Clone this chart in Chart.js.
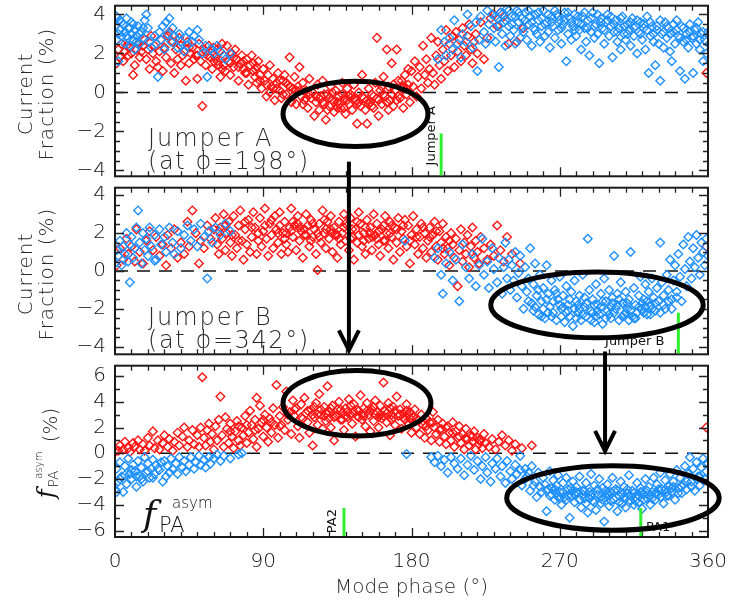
<!DOCTYPE html>
<html>
<head>
<meta charset="utf-8">
<script src="https://cdn.jsdelivr.net/npm/chart.js@4.4.1/dist/chart.umd.min.js"></script>
<style>
  body { margin: 0; background: #fff; }
  #wrap { position: relative; width: 742px; height: 604px; }
  canvas { position: absolute; left: 0; }
</style>
</head>
<body>
<div id="wrap">
  <canvas id="c1" width="742" height="182" style="top:0px"></canvas>
  <canvas id="c2" width="742" height="178" style="top:182px"></canvas>
  <canvas id="c3" width="742" height="244" style="top:360px"></canvas>
</div>
<script>
// mode phase (deg) / value (%) pairs, x,y,x,y,...

// panel 1 : current fraction, Jumper A
const jumperARed = [
  1,1.5, 2,2.2, 3,1.8, 4,2.5, 5,1.6, 6,2.1, 7,2.4, 8,1.9, 9,2.3, 10,2.0, 11,0.9, 12,1.4, 13,2.2, 14,2.5, 15,1.8,
  16,2.1, 17,2.4, 18,2.7, 19,1.7, 20,2.2, 21,1.2, 22,2.9, 23,2.0, 24,2.4, 25,1.6, 26,1.3, 27,2.1, 28,2.7, 29,1.1, 30,2.3,
  31,1.8, 32,2.9, 33,3.1, 34,1.5, 35,2.6, 36,1.0, 37,2.2, 38,1.7, 39,2.8, 40,2.4, 41,1.9, 42,2.1, 43,0.6, 44,2.6, 45,1.5,
  46,2.0, 47,2.3, 48,1.7, 49,1.9, 50,0.7, 51,2.5, 52,1.6, 53,-0.7, 54,2.2, 55,1.4, 56,1.9, 57,2.4, 58,1.8, 59,1.2, 60,2.3,
  61,1.8, 62,2.2, 62,1.6, 63,1.4, 64,0.8, 65,2.5, 66,1.9, 66,1.4, 67,1.1, 68,2.4, 69,1.6, 70,0.9, 71,2.0, 72,1.3, 72,1.8,
  73,2.2, 74,1.7, 75,0.6, 76,1.5, 77,1.9, 78,1.2, 78,1.6, 79,1.0, 80,1.7, 81,0.4, 82,1.4, 83,1.9, 84,1.1, 84,1.5, 85,0.8,
  86,1.3, 86,0.5, 87,1.6, 88,0.9, 89,0.2, 90,1.2, 91,0.6, 92,-0.2, 93,0.9, 94,1.4, 95,0.3, 96,0.7, 96,0.2, 97,-0.4, 98,0.5,
  99,1.0, 100,0.1, 100,0.6, 101,-0.3, 102,0.6, 103,0.9, 104,-0.1, 104,0.5, 105,0.4, 106,1.8, 107,-0.5, 108,0.2, 108,-0.2,
  109,0.8, 110,-0.6, 111,0.3, 112,1.3, 112,0.1, 113,-0.2, 114,0.5, 115,-0.4, 116,0.1, 116,-0.3, 117,-0.8, 118,0.7, 119,-0.3,
  120,0.0, 121,-1.2, 122,-0.5, 123,0.4, 124,-0.9, 124,-0.3, 125,-0.2, 126,0.6, 127,-0.6, 127,-0.1, 128,-1.4, 129,-0.1,
  130,-0.7, 130,-0.3, 131,0.3, 132,-0.4, 133,-1.0, 133,-0.5, 134,0.1, 135,-0.5, 136,-0.2, 136,-0.6, 137,-0.8, 138,0.5,
  139,-0.3, 139,-0.8, 140,-1.1, 141,0.2, 142,-0.6, 142,-0.2, 143,-0.1, 144,-0.9, 145,0.4, 145,-0.3, 146,-0.4, 147,-1.6,
  148,0.0, 148,-0.5, 149,-0.7, 150,0.9, 151,-0.3, 152,-0.9, 153,-1.6, 154,0.2, 154,-0.6, 155,-0.5, 156,-0.1, 157,-0.8,
  157,-0.2, 158,0.5, 159,2.8, 160,-1.2, 160,-0.4, 161,0.1, 162,-0.6, 163,0.8, 163,-0.1, 164,-0.2, 165,2.2, 166,0.3, 166,-0.9,
  167,-0.4, 168,1.5, 169,-0.7, 169,0.4, 170,0.1, 171,2.2, 172,0.6, 172,-0.2, 173,-0.3, 174,0.2, 175,-0.8, 175,0.3, 176,0.9,
  177,-0.1, 178,0.4, 178,1.2, 179,-0.5, 180,1.1, 181,0.3, 182,1.6, 183,-0.2, 184,0.8, 185,1.3, 186,0.2, 187,2.4, 188,0.9,
  189,1.7, 190,0.5, 191,1.2, 192,2.8, 193,1.0, 194,0.4, 195,1.9, 196,2.6, 197,1.4, 198,0.7, 199,2.2, 200,1.6, 201,3.2,
  202,1.1, 203,2.5, 204,1.9, 205,2.9, 206,1.3, 207,3.1, 208,2.1, 209,2.7, 210,1.6, 211,3.3, 212,2.4, 213,1.9, 214,2.9,
  215,3.5, 216,2.2, 217,1.5, 218,2.6, 219,3.0, 220,2.0, 222,3.6, 224,1.7, 226,2.8, 228,3.8, 230,4.0, 232,3.4, 234,4.1,
  236,3.9, 239,2.5, 244,2.6, 248,3.3, 359,1.0,
  92,0.4, 94,0.0, 98,0.2, 102,-0.1, 106,0.3, 110,0.1, 114,-0.6, 118,-0.1, 122,-0.2, 126,-0.5, 129,-0.9, 132,0.0,
  135,-0.8, 138,-0.1, 141,-0.4, 144,-0.2, 147,-0.6, 150,-0.2, 153,-0.4, 156,-0.7, 159,-0.3, 162,0.3, 165,-0.5, 168,-0.1,
  171,-0.4, 174,0.6, 177,0.2, 40,1.4, 45,2.3, 50,1.9, 55,2.1, 60,1.6, 65,1.2, 70,1.5, 75,1.3, 80,1.0, 85,1.2, 88,0.6
];
const jumperABlue = [
  0,3.4, 1,3.9, 1,2.7, 2,1.6, 3,3.2, 3,3.7, 4,2.9, 5,3.5, 6,3.1, 6,2.5, 7,3.8, 8,2.8, 8,3.3, 9,2.4, 10,3.0, 10,3.6, 11,2.7,
  12,3.2, 12,2.2, 13,2.9, 14,3.4, 15,2.5, 16,3.1, 17,2.8, 18,3.7, 19,4.0, 20,3.3, 21,2.6, 22,2.3, 24,2.9, 25,2.5, 26,0.8,
  27,3.1, 28,2.7, 29,3.4, 30,2.2, 31,3.6, 32,3.0, 33,3.8, 34,2.6, 35,3.3, 36,2.9, 38,2.3, 39,3.0, 40,2.6, 42,2.1, 43,2.8,
  44,2.4, 45,3.1, 47,2.6, 48,2.9, 50,3.2, 51,2.7, 53,2.0, 55,2.4, 56,0.8, 58,2.2, 60,2.0, 62,2.4, 64,2.1, 67,1.7, 70,2.0,
  196,1.7, 198,3.2, 200,2.6, 201,1.9, 203,2.8, 205,2.2, 206,3.7, 208,2.5, 210,1.8, 211,3.0, 213,2.6, 214,4.0, 216,3.4,
  217,2.3, 219,3.6, 220,1.1, 221,2.7, 222,3.9, 224,3.1, 225,2.5, 226,4.2, 227,3.5, 228,2.8, 229,4.0, 230,3.3, 231,2.6,
  232,3.8, 233,1.3, 234,4.1, 235,3.0, 236,3.6, 237,2.4, 238,4.3, 239,3.4, 240,2.9, 241,3.9, 242,3.2, 243,2.5, 244,4.2,
  245,3.6, 246,2.8, 247,3.8, 248,3.1, 249,4.1, 250,2.7, 251,3.5, 252,3.9, 253,2.4, 254,3.3, 255,4.0, 256,3.0, 257,3.7,
  258,2.6, 259,3.4, 260,4.2, 261,2.9, 262,3.6, 263,3.1, 264,2.3, 265,3.9, 266,3.4, 267,2.8, 268,4.0, 269,3.2, 270,3.7,
  271,2.5, 272,3.5, 273,4.1, 274,1.6, 275,3.0, 276,3.8, 277,2.7, 278,3.4, 279,4.0, 280,2.9, 281,3.6, 282,3.2, 283,2.2,
  284,3.9, 285,3.3, 286,2.6, 287,3.7, 288,1.9, 289,3.1, 290,4.1, 291,2.8, 292,3.5, 293,3.0, 294,1.5, 295,3.8, 296,3.3,
  297,2.5, 298,3.6, 299,4.0, 300,2.9, 301,3.4, 302,1.8, 303,3.1, 304,3.7, 305,2.6, 306,3.3, 307,2.2, 308,3.9, 309,3.0,
  310,2.7, 311,3.5, 312,3.2, 313,2.4, 314,3.8, 315,2.9, 316,3.4, 317,2.0, 318,3.1, 319,3.6, 320,2.7, 321,3.3, 322,2.2,
  323,3.9, 324,1.0, 325,2.9, 326,3.4, 327,2.6, 328,1.4, 329,3.2, 330,2.5, 331,0.6, 332,3.0, 333,2.3, 334,3.6, 335,2.8,
  336,3.3, 337,2.1, 338,1.6, 339,3.1, 340,2.5, 341,3.7, 342,2.9, 343,1.1, 344,3.4, 345,2.6, 346,0.7, 347,3.0, 348,2.3,
  349,3.5, 350,2.8, 351,1.0, 352,3.2, 353,2.5, 354,3.6, 355,2.2, 356,3.0, 357,1.6, 358,2.7, 359,2.0, 360,3.1,
  231,3.9, 233,3.4, 235,4.0, 237,3.7, 239,4.2, 241,3.5, 243,3.9, 245,4.1, 247,3.3, 249,3.7, 251,4.2, 253,3.6, 255,3.2,
  257,4.1, 259,3.8, 261,3.5, 263,4.0, 265,3.6, 267,4.2, 269,3.9, 271,3.3, 273,3.7, 275,4.1, 277,3.6, 279,3.2, 281,3.9,
  283,3.5, 285,4.1, 287,3.3, 289,3.8, 291,3.4, 293,4.0, 295,3.6, 297,3.2, 299,3.7, 301,3.9, 303,3.5, 305,3.1, 307,3.8,
  309,3.4, 311,3.0, 313,3.6, 315,3.3, 317,3.7, 319,3.0, 321,3.5, 323,3.2, 325,3.6, 327,3.0, 329,3.4, 331,3.7, 333,3.1,
  335,3.4, 337,3.0, 339,3.5, 341,3.2, 343,2.8, 345,3.3, 347,2.7, 349,3.1, 351,2.9, 353,3.3, 355,2.7, 357,3.1, 359,2.6,
  2,3.0, 4,3.6, 7,2.9, 9,3.3, 11,3.5, 13,2.6, 15,3.0, 17,3.3
];

// panel 2 : current fraction, Jumper B
const jumperBRed = [
  1,0.3, 3,1.2, 5,0.6, 7,1.7, 8,0.9, 10,1.3, 12,0.5, 13,2.2, 15,1.0, 17,0.4, 19,1.6, 21,2.1, 23,1.1, 25,1.8, 27,0.8,
  29,1.4, 31,0.3, 32,1.9, 34,1.2, 36,2.2, 38,0.7, 40,1.5, 42,0.9, 44,2.6, 45,1.3, 47,3.2, 49,2.0, 51,0.4, 52,1.6, 54,1.2,
  56,2.4, 58,1.7, 60,2.2, 61,2.8, 62,1.4, 63,0.9, 64,2.3, 65,1.7, 66,3.0, 67,1.1, 68,2.0, 69,2.6, 70,1.5, 71,0.8, 72,2.9,
  73,1.9, 74,1.2, 75,2.4, 76,3.2, 77,1.6, 78,0.6, 79,2.2, 80,1.4, 81,2.7, 82,1.0, 83,1.8, 84,3.1, 85,2.3, 86,0.9, 87,1.6,
  88,2.8, 89,1.3, 90,2.1, 91,3.3, 92,1.7, 93,0.8, 94,2.5, 95,1.9, 96,1.2, 97,2.9, 98,2.2, 99,1.5, 100,3.1, 100,2.4, 101,0.9,
  102,2.0, 103,2.6, 104,1.4, 104,2.0, 105,1.0, 106,2.3, 107,3.3, 108,1.8, 108,2.6, 109,2.4, 110,1.1, 111,2.9, 112,1.6,
  112,2.3, 113,2.1, 114,0.7, 115,1.9, 116,3.0, 116,1.9, 117,2.4, 118,1.3, 119,2.7, 120,1.8, 120,2.5, 121,2.2, 122,0.9,
  123,0.05, 124,2.5, 124,1.8, 125,1.5, 126,3.2, 127,2.0, 128,1.2, 128,2.2, 129,2.6, 130,1.7, 131,2.9, 132,1.0, 132,2.0,
  133,2.3, 134,1.9, 135,0.7, 136,2.6, 136,1.7, 137,1.4, 138,2.0, 139,3.0, 140,1.6, 140,2.5, 141,2.4, 142,1.1, 143,2.8,
  144,1.8, 144,2.2, 145,0.6, 146,2.2, 147,1.5, 148,3.1, 148,1.9, 149,2.5, 150,1.3, 151,2.0, 152,0.9, 152,2.3, 153,2.7,
  154,1.7, 155,2.3, 156,1.1, 156,1.8, 157,3.0, 158,1.9, 159,2.5, 160,1.4, 160,2.1, 161,0.8, 162,2.2, 163,1.6, 164,2.9,
  164,1.6, 165,2.0, 166,1.2, 167,2.6, 168,1.8, 168,2.4, 169,0.6, 170,2.3, 171,1.5, 172,2.8, 173,1.0, 174,2.1, 175,1.7,
  176,2.7, 177,1.3, 178,2.4, 179,0.4, 180,1.9, 181,2.9, 182,1.4, 183,2.2, 184,0.9, 185,1.8, 186,2.5, 187,1.2, 188,2.0,
  189,0.7, 190,1.6, 191,2.3, 192,1.0, 193,1.9, 194,2.6, 195,1.3, 196,0.6, 197,2.1, 198,1.5, 199,2.5, 200,0.9, 201,1.8,
  202,1.2, 203,0.3, 204,2.0, 205,1.4, 206,0.7, 207,1.7, 208,-0.8, 209,1.1, 210,2.2, 211,0.5, 212,1.5, 213,0.9, 214,1.9,
  215,0.2, 216,1.3, 217,2.3, 218,0.7, 219,1.6, 220,1.0, 221,0.4, 222,1.8, 224,1.2, 226,0.6, 228,1.4, 230,0.8, 232,2.4,
  234,1.1, 236,0.5, 238,1.8, 241,0.9, 246,0.4, 359,1.3,
  63,2.1, 67,2.4, 71,1.9, 75,1.6, 79,2.6, 83,2.3, 87,2.0, 91,2.4, 95,2.7, 99,2.0, 103,1.7, 107,2.1, 111,2.5, 115,2.2,
  119,1.6, 123,2.0, 127,2.7, 131,2.2, 135,1.9, 139,2.3, 143,1.7, 147,2.6, 151,1.6, 155,2.0, 159,1.7, 163,2.4, 167,2.0,
  171,2.2, 175,2.4, 179,1.6, 183,1.8, 187,2.3, 191,1.8, 195,2.1, 199,1.2, 203,1.6
];
const jumperBBlue = [
  0,0.4, 1,1.1, 2,0.8, 3,1.6, 4,0.3, 5,1.3, 6,0.9, 7,2.0, 8,0.5, 9,-0.6, 9,1.4, 10,1.8, 11,0.7, 12,1.2, 13,2.3, 14,3.2,
  15,1.5, 16,0.4, 17,2.0, 18,1.1, 19,1.7, 20,0.8, 21,2.3, 22,1.3, 24,1.9, 24,0.55, 25,0.6, 27,2.2, 28,1.4, 30,1.8, 31,1.0,
  33,2.3, 35,1.5, 36,0.9, 38,2.1, 40,1.2, 42,1.9, 44,2.4, 46,1.6, 48,2.2, 50,1.3, 52,2.5, 54,1.8, 56,-0.4, 57,2.1, 59,1.5,
  61,2.3, 64,1.9, 67,2.5, 70,2.1,
  176,1.6, 194,0.7, 196,1.2, 198,-0.2, 199,-1.2, 201,0.4, 203,1.0, 205,-0.5, 207,0.6, 209,-1.6, 211,1.4, 213,0.2, 215,-0.4,
  217,0.9, 219,-0.8, 221,0.3, 223,1.7, 224,-0.2, 226,0.5, 227,-0.9, 229,1.2, 230,0.1, 232,-0.6, 233,0.7, 235,-1.2, 236,0.2,
  237,1.5, 238,-0.4, 239,0.6, 240,-1.0, 241,0.3, 242,-0.5, 243,1.0, 244,-1.4, 245,-0.1, 246,0.8, 247,-0.8, 248,-2.0,
  249,0.2, 250,-1.1, 251,-0.4, 252,1.2, 253,-1.7, 254,-0.7, 255,0.4, 255,-1.9, 256,-1.3, 257,-2.3, 258,-0.2, 259,-1.6,
  260,-0.9, 260,-2.0, 261,-2.5, 262,0.3, 262,-1.5, 263,-1.2, 264,-1.9, 265,-0.5, 265,-2.4, 266,-2.2, 267,-1.0, 268,-2.6,
  269,-1.5, 270,-0.3, 270,-1.8, 271,-2.0, 272,-1.3, 272,-1.9, 273,-2.7, 274,-0.8, 275,-1.8, 275,-2.1, 276,-2.4, 277,-1.1,
  278,-2.9, 279,-0.5, 280,-1.6, 280,-2.5, 281,-2.2, 282,-1.3, 282,-2.0, 283,-2.6, 284,-0.2, 285,-1.9, 285,-1.4, 286,-2.4,
  287,1.7, 288,-1.0, 289,-2.1, 290,-1.5, 290,-2.2, 291,-2.7, 292,-0.7, 292,-2.4, 293,-1.8, 294,-2.3, 295,-1.2, 295,-1.9,
  296,-2.8, 297,-0.4, 298,-1.6, 299,-2.1, 300,-1.0, 300,-2.3, 301,-2.5, 302,-1.4, 302,-1.7, 303,0.8, 304,-2.0, 305,-1.2,
  305,-1.8, 306,-2.6, 307,-0.6, 308,-1.7, 309,-2.3, 310,-1.1, 310,-2.2, 311,-2.0, 312,-1.5, 312,-2.6, 313,1.0, 314,-2.4,
  315,-0.9, 315,-2.5, 316,-1.8, 317,-2.2, 318,-1.3, 319,-0.3, 320,-2.0, 320,-1.7, 321,-1.5, 322,-0.7, 322,-1.9, 323,-2.3,
  324,-1.1, 325,-1.8, 325,-2.3, 326,-0.4, 327,-1.4, 328,-2.1, 329,-0.9, 330,-1.6, 331,1.5, 332,-0.6, 333,-1.3, 334,-2.0,
  335,-0.2, 336,-1.0, 337,0.6, 338,-1.5, 339,-0.5, 340,0.3, 341,-1.1, 342,0.9, 343,-0.3, 344,-1.6, 345,1.4, 346,0.1,
  347,-0.8, 348,1.8, 349,0.5, 350,-0.4, 351,1.2, 352,0.2, 353,1.9, 354,0.7, 355,-0.2, 356,1.5, 357,1.0, 358,0.3, 359,1.7,
  360,0.8,
  251,-1.6, 254,-2.1, 257,-1.0, 259,-2.4, 263,-2.2, 266,-1.6, 268,-1.2, 271,-2.4, 274,-2.2, 276,-1.5, 279,-2.0, 281,-1.8,
  284,-2.3, 286,-1.7, 289,-2.6, 291,-1.8, 293,-2.1, 296,-1.6, 298,-2.5, 301,-1.9, 303,-2.2, 306,-1.5, 308,-2.4, 311,-1.7,
  313,-2.1, 316,-2.5, 318,-1.9, 321,-2.2, 323,-1.6, 326,-2.0, 328,-1.7, 331,-2.2, 333,-1.8, 336,-1.6, 338,-2.0, 341,-1.4
];

// panel 3 : PA asymmetry
const asymRed = [
  0,0.1, 2,0.2, 3,0.6, 5,0.3, 6,0.9, 8,0.4, 9,0.1, 11,0.8, 12,0.5, 14,1.0, 15,0.3, 17,0.7, 18,0.2, 20,1.2, 21,0.6, 23,1.7,
  24,0.4, 26,1.0, 27,0.3, 29,0.8, 30,1.4, 32,0.5, 33,1.1, 35,0.2, 36,0.9, 38,1.6, 39,0.6, 41,1.3, 42,2.0, 44,0.5, 45,1.0,
  47,1.8, 48,0.7, 50,1.4, 51,0.5, 52,2.0, 53,5.9, 54,1.2, 55,0.6, 56,1.8, 57,2.3, 58,0.9, 59,1.5, 60,0.3, 61,2.1, 62,1.0,
  63,2.6, 64,4.4, 65,1.4, 66,0.5, 67,2.8, 68,1.9, 69,0.8, 70,2.3, 71,1.3, 72,0.4, 73,1.7, 74,2.5, 75,1.0, 76,0.6, 77,2.0,
  78,1.4, 79,2.9, 80,0.8, 81,1.6, 82,3.3, 83,2.2, 84,1.1, 85,2.6, 86,4.3, 86,0.5, 87,1.9, 88,3.7, 89,2.4, 90,1.3, 91,3.0,
  92,2.0, 93,0.9, 94,2.7, 95,1.6, 96,3.5, 97,2.2, 98,5.3, 99,1.2, 100,2.9, 101,2.2, 102,3.6, 103,1.8, 104,4.8, 105,2.6,
  106,3.2, 107,1.5, 108,4.1, 109,2.9, 110,3.5, 111,2.1, 112,1.2, 113,3.8, 114,2.7, 115,4.3, 116,3.1, 117,2.4, 118,1.6,
  119,3.4, 120,0.6, 120,3.0, 121,2.8, 122,3.9, 123,2.2, 124,4.6, 125,3.0, 125,3.4, 126,1.9, 127,3.6, 128,2.5, 128,3.1,
  129,5.2, 130,3.2, 130,2.7, 131,2.0, 132,3.7, 133,1.0, 134,2.9, 135,3.4, 135,3.0, 136,4.0, 137,2.6, 138,3.1, 138,2.6,
  139,1.8, 140,3.5, 140,2.9, 141,2.8, 142,4.2, 143,3.0, 144,2.3, 145,3.8, 145,3.2, 146,1.3, 147,2.9, 148,3.3, 148,2.8,
  149,4.5, 150,2.6, 150,3.0, 151,3.5, 152,2.1, 153,3.9, 154,3.0, 155,1.7, 155,3.3, 156,3.4, 157,2.5, 158,4.1, 158,3.0,
  159,3.2, 160,2.0, 160,2.8, 161,3.7, 162,2.7, 163,5.5, 164,3.3, 165,2.4, 165,3.1, 166,3.9, 167,1.4, 168,3.0, 168,2.6,
  169,3.6, 170,2.2, 170,3.3, 171,4.4, 172,2.9, 173,3.4, 174,1.9, 175,3.1, 175,2.8, 176,2.6, 177,3.8, 178,2.3, 178,3.0,
  179,3.2, 180,1.6, 181,2.8, 182,3.4, 183,2.0, 184,2.6, 185,1.5, 186,3.0, 187,2.2, 188,1.2, 189,2.7, 190,1.8, 191,2.4,
  192,1.0, 193,3.2, 194,2.0, 195,1.5, 196,2.6, 197,0.9, 198,1.9, 199,2.3, 200,1.3, 201,0.7, 202,2.1, 203,1.6, 204,1.0,
  205,2.4, 206,0.5, 207,1.7, 208,1.2, 209,2.1, 210,0.8, 211,1.5, 212,0.3, 213,1.9, 214,1.1, 215,0.6, 216,1.4, 217,0.9,
  218,1.7, 219,0.3, 220,1.2, 221,0.7, 222,1.0, 223,0.4, 224,1.5, 225,0.8, 227,0.5, 229,1.1, 231,0.3, 233,0.9, 235,1.4,
  237,0.6, 239,1.0, 241,0.2, 243,0.7, 247,0.4, 253,0.6, 359,2.0,
  105,3.0, 109,3.4, 113,2.8, 117,3.3, 121,3.6, 123,3.0, 127,2.9, 131,3.5, 133,2.8, 137,3.4, 141,3.2, 143,3.7, 147,3.4,
  151,2.9, 153,3.3, 157,3.6, 161,3.0, 163,2.9, 167,3.5, 169,2.8, 173,3.0, 177,3.3, 179,2.7, 183,2.7, 187,2.5, 189,2.1,
  193,2.4, 197,1.8, 201,2.0, 205,1.6, 209,1.3, 213,1.2, 217,1.3, 221,1.0, 70,1.7, 75,2.1, 80,2.2, 85,1.8, 90,2.6, 95,2.4,
  100,2.1
];
const asymBlue = [
  0,-2.8, 1,-1.2, 2,-2.2, 3,-0.7, 4,-1.8, 5,-3.0, 6,-1.0, 7,-2.4, 8,-0.4, 9,-1.6, 10,-2.0, 11,-0.9, 12,-1.4, 13,-2.6,
  14,-0.6, 15,-1.8, 16,-1.1, 17,-2.2, 18,-0.3, 19,-1.5, 20,-0.8, 21,-1.9, 22,-1.2, 23,-0.5, 24,-1.6, 25,-0.9, 27,-1.3,
  29,-2.2, 30,-0.6, 31,-1.8, 32,-1.0, 33,-1.5, 34,-0.4, 35,-1.2, 37,-0.8, 38,-1.6, 39,-0.3, 41,-1.1, 42,-0.6, 43,-1.4,
  45,-0.9, 46,-0.3, 48,-1.2, 49,-0.7, 51,-0.2, 52,-0.9, 54,-0.5, 55,-1.1, 57,-0.3, 58,-0.8, 60,-0.4, 62,-0.1, 64,-0.6,
  66,-0.2, 70,-0.4, 75,-0.1, 77,0.0,
  177,-0.05, 192,-0.3, 194,-0.7, 196,-0.2, 198,-1.0, 200,-0.5, 202,-1.5, 204,-0.3, 206,-0.8, 208,-1.2, 210,-0.4, 212,-1.7,
  214,-0.9, 216,-0.2, 218,-1.3, 220,-0.6, 222,-2.0, 223,-1.0, 225,-0.3, 226,-1.5, 228,-2.2, 229,-0.8, 231,-1.2, 232,-0.4,
  234,-1.8, 235,-1.0, 237,-2.3, 238,-0.6, 240,-1.4, 241,-2.0, 243,-0.9, 244,-1.6, 246,-0.2, 247,-2.5, 249,-1.2, 250,-1.8,
  252,-2.9, 253,-1.0, 255,-2.2, 256,-3.4, 257,-1.5, 258,-2.6, 259,-3.0, 260,-1.9, 261,-2.4, 262,-4.5, 263,-2.8, 264,-1.4,
  265,-3.2, 265,-2.7, 266,-2.1, 267,-3.6, 268,-2.5, 268,-3.1, 269,-1.7, 270,-3.0, 270,-3.5, 271,-4.0, 272,-2.3, 273,-3.4,
  274,-1.9, 275,-2.8, 275,-3.3, 276,-5.0, 277,-3.3, 278,-2.2, 278,-2.9, 279,-3.8, 280,-2.6, 280,-3.0, 281,-3.1, 282,-1.8,
  283,-4.2, 284,-2.9, 285,-3.5, 285,-2.9, 286,-2.3, 287,-4.6, 288,-3.0, 288,-3.5, 289,-1.6, 290,-3.7, 290,-3.1, 291,-2.5,
  292,-4.4, 293,-3.2, 294,-2.0, 295,-3.9, 295,-3.4, 296,-2.7, 297,-5.3, 298,-3.4, 298,-2.9, 299,-2.4, 300,-4.1, 300,-3.3,
  301,-3.0, 302,-1.9, 303,-3.6, 304,-2.8, 305,-4.5, 305,-2.9, 306,-3.3, 307,-2.2, 308,-3.9, 308,-3.2, 309,-2.6, 310,-4.2,
  310,-3.5, 311,-3.1, 312,-1.7, 313,-3.7, 314,-2.9, 315,-4.0, 315,-3.1, 316,-3.4, 317,-2.3, 318,-3.8, 318,-3.3, 319,-2.7,
  320,-4.3, 320,-3.0, 321,-3.2, 322,-2.0, 323,-3.5, 324,-2.6, 325,-4.0, 325,-3.3, 326,-3.0, 327,-1.9, 328,-3.6, 328,-3.1,
  329,-2.4, 330,-3.2, 330,-2.8, 331,-1.5, 332,-2.8, 333,-3.9, 334,-2.1, 335,-3.3, 335,-3.0, 336,-2.6, 337,-1.6, 338,-3.0,
  338,-2.7, 339,-2.2, 340,-3.6, 341,-1.3, 342,-2.7, 343,-1.9, 344,-3.1, 345,-2.4, 346,-1.0, 347,-2.8, 348,-1.6, 349,-0.3,
  350,-2.2, 351,-1.2, 352,-2.9, 353,-0.7, 354,-1.8, 355,-2.5, 356,-1.1, 357,-0.4, 358,-2.0, 359,-1.4, 360,-0.8,
  262,-2.9, 264,-3.3, 267,-2.8, 269,-3.4, 272,-3.0, 274,-3.6, 277,-2.7, 279,-3.2, 282,-3.6, 284,-3.2, 286,-3.9, 289,-3.3,
  291,-3.8, 293,-2.8, 296,-3.6, 299,-3.1, 301,-3.7, 303,-2.9, 306,-3.8, 309,-3.4, 311,-2.8, 313,-3.3, 316,-3.7, 319,-3.0,
  321,-3.6, 323,-2.9, 326,-3.5, 329,-3.1, 331,-3.4, 334,-2.8, 336,-3.3, 339,-2.6, 342,-3.1, 344,-2.6, 347,-2.2, 350,-2.6,
  353,-2.0, 355,-1.8, 246,-1.3, 249,-2.0, 251,-1.5, 254,-2.5, 10,-1.3, 13,-1.8, 16,-2.0, 20,-1.4, 23,-1.9, 26,-1.2,
  28,-0.7, 6,-1.7, 3,-2.0, 1,-3.0
];

const xTicks = [0, 90, 180, 270, 360];

const RED = '#ff1414';
const BLUE = '#1e90ff';
const GREEN = '#2ef02e';
const INK = '#111';
const FONT = '"DejaVu Sans", sans-serif';
const SERIF = '"DejaVu Serif", serif';
const LIGHT = '200';

const toPts = arr => {
  const out = [];
  for (let i = 0; i < arr.length; i += 2) out.push({ x: arr[i], y: arr[i + 1] });
  return out;
};
const fmt = v => (v < 0 ? '\u2212' + (-v) : String(v));

// panel settings: ranges, marker lines, ellipses, arrows, labels
const panels = [
  {
    el: 'c1', red: jumperARed, blue: jumperABlue,
    yMin: -4.3, yMax: 4.45, yMinor: 0.5, pad: { top: 5, bottom: 4 },
    title: ['Current', 'Fraction (%)'],
    marks: [{ x: 198, y: -2.1 }],
    ellipses: [{ x: 146, y: -1.1, rx: 44, ry: 1.67 }],
    arrows: [{ x: 142, from: -3.55, to: 'bottom' }],
    texts: [
      { t: 'Jumper A', x: 20, y: -2.73, size: 24, sp: 2 },
      { t: '(at \u03d5=198\u00b0)', x: 20, y: -3.95, size: 24, sp: 1.6 },
      { t: 'Jumper A', x: 194.3, y: -3.74, size: 13, rot: true }
    ]
  },
  {
    el: 'c2', red: jumperBRed, blue: jumperBBlue,
    yMin: -4.4, yMax: 4.4, yMinor: 0.5, pad: { top: 3, bottom: 3 },
    title: ['Current', 'Fraction (%)'],
    marks: [{ x: 342, y: -2.2 }],
    ellipses: [{ x: 292.6, y: -1.79, rx: 64.5, ry: 1.74 }],
    arrows: [{ x: 142, from: 'top', to: -4.19, head: true }, { x: 297.5, from: -4.25, to: 'bottom' }],
    texts: [
      { t: 'Jumper B', x: 20, y: -2.86, size: 24, sp: 2 },
      { t: '(at \u03d5=342\u00b0)', x: 20, y: -4.09, size: 24, sp: 1.6 },
      { t: 'Jumper B', x: 297.5, y: -3.89, size: 13 }
    ]
  },
  {
    el: 'c3', red: asymRed, blue: asymBlue,
    yMin: -6.5, yMax: 6.8, yMinor: 1, pad: { top: 4, bottom: 0 },
    xAxis: true,
    marks: [{ x: 139, y: -4.25 }, { x: 319.2, y: -4.25 }],
    ellipses: [{ x: 146.9, y: 3.88, rx: 44.9, ry: 2.54 }, { x: 302.3, y: -3.47, rx: 64.5, ry: 2.5 }],
    arrows: [{ x: 297.5, from: 'top', to: 0.18, head: true }],
    texts: [
      { t: 'PA2', x: 134.2, y: -6.2, size: 13, rot: true },
      { t: 'PA1', x: 322.4, y: -6.05, size: 13 }
    ],
    fLabel: { x: 17, y: -5.66 }
  }
];

function drawText(ctx, chart, t) {
  const px = chart.scales.x.getPixelForValue(t.x);
  const py = chart.scales.y.getPixelForValue(t.y);
  ctx.save();
  ctx.fillStyle = t.size > 15 ? '#2a2a2a' : INK;
  ctx.font = `${t.size > 15 ? LIGHT : 'normal'} ${t.size}px ${FONT}`;
  ctx.letterSpacing = (t.sp || 0) + 'px';
  ctx.textBaseline = 'alphabetic';
  ctx.translate(px, py);
  if (t.rot) ctx.rotate(-Math.PI / 2);
  ctx.fillText(t.t, 0, 0);
  ctx.restore();
}

// f_PA^asym written with sub/superscripts
function drawF(ctx, x, y, big) {
  const k = big ? 1 : 0.68;
  ctx.fillStyle = INK;
  ctx.textBaseline = 'alphabetic';
  ctx.font = `italic ${Math.round(36 * k)}px ${SERIF}`;
  ctx.fillText('f', x, y);
  ctx.font = `${LIGHT} ${Math.round(21 * k)}px ${FONT}`;
  ctx.fillText('PA', x + 16 * k, y + 6 * k);
  ctx.font = `${LIGHT} ${Math.round(15 * k)}px ${FONT}`;
  ctx.fillText('asym', x + 29 * k, y - 18 * k);
}

function panelPlugin(p) {
  return {
    id: 'panelDecor',
    beforeDatasetsDraw(chart) {
      const { ctx, chartArea: a } = chart;
      const y0 = chart.scales.y.getPixelForValue(0);
      ctx.save();
      ctx.strokeStyle = '#111';
      ctx.lineWidth = 1.6;
      ctx.setLineDash([13, 9]);
      ctx.beginPath();
      ctx.moveTo(a.left, y0);
      ctx.lineTo(a.right, y0);
      ctx.stroke();
      ctx.restore();
    },
    afterDraw(chart) {
      const { ctx, chartArea: a } = chart;
      const xs = chart.scales.x, ys = chart.scales.y;
      const mid = (a.top + a.bottom) / 2;
      ctx.save();

      // ticks pointing inwards on all four sides
      ctx.strokeStyle = '#222';
      ctx.lineWidth = 1.3;
      ctx.beginPath();
      for (let v = 10; v < 360; v += 10) {
        const x = Math.round(xs.getPixelForValue(v)) + 0.5;
        const len = v % 90 === 0 ? 9 : 5;
        ctx.moveTo(x, a.bottom); ctx.lineTo(x, a.bottom - len);
        ctx.moveTo(x, a.top); ctx.lineTo(x, a.top + len);
      }
      const k0 = Math.ceil(p.yMin / p.yMinor), k1 = Math.floor(p.yMax / p.yMinor);
      for (let k = k0; k <= k1; k++) {
        const v = k * p.yMinor;
        const y = Math.round(ys.getPixelForValue(v)) + 0.5;
        const len = Math.abs(v / 2 - Math.round(v / 2)) < 1e-6 ? 9 : 5;
        ctx.moveTo(a.left, y); ctx.lineTo(a.left + len, y);
        ctx.moveTo(a.right, y); ctx.lineTo(a.right - len, y);
      }
      ctx.stroke();

      // box
      ctx.lineWidth = 2;
      ctx.strokeStyle = '#1a1a1a';
      ctx.strokeRect(a.left, a.top, a.right - a.left, a.bottom - a.top);

      // y titles, two rotated lines
      if (p.title) {
        ctx.save();
        ctx.fillStyle = '#2a2a2a';
        ctx.font = `${LIGHT} 20px ${FONT}`;
        ctx.letterSpacing = '1px';
        ctx.textAlign = 'center';
        ctx.textBaseline = 'middle';
        p.title.forEach((line, i) => {
          ctx.save();
          ctx.translate(27 + i * 21, mid + 3);
          ctx.rotate(-Math.PI / 2);
          ctx.fillText(line, 0, 0);
          ctx.restore();
        });
        ctx.restore();
      }

      // green phase markers
      ctx.strokeStyle = GREEN;
      ctx.lineWidth = 3;
      p.marks.forEach(m => {
        const x = xs.getPixelForValue(m.x);
        ctx.beginPath();
        ctx.moveTo(x, ys.getPixelForValue(m.y));
        ctx.lineTo(x, a.bottom - 1);
        ctx.stroke();
      });

      p.texts.forEach(t => drawText(ctx, chart, t));

      if (p.fLabel) {
        drawF(ctx, xs.getPixelForValue(p.fLabel.x), ys.getPixelForValue(p.fLabel.y), true);
        // rotated axis title
        ctx.save();
        ctx.translate(a.left - 61, mid + 47);
        ctx.rotate(-Math.PI / 2);
        drawF(ctx, 0, 0, false);
        ctx.font = `${LIGHT} 20px ${FONT}`;
        ctx.fillStyle = '#2a2a2a';
        ctx.fillText('(%)', 56, 3);
        ctx.restore();
      }

      // ellipses
      ctx.strokeStyle = '#000';
      ctx.lineWidth = 5;
      p.ellipses.forEach(e => {
        const cx = xs.getPixelForValue(e.x), cy = ys.getPixelForValue(e.y);
        const rx = Math.abs(xs.getPixelForValue(e.x + e.rx) - cx);
        const ry = Math.abs(ys.getPixelForValue(e.y + e.ry) - cy);
        ctx.beginPath();
        ctx.ellipse(cx, cy, rx, ry, 0, 0, Math.PI * 2);
        ctx.stroke();
      });

      // arrows (may run across the gap between panels)
      ctx.lineWidth = 4;
      p.arrows.forEach(ar => {
        const x = xs.getPixelForValue(ar.x);
        const y0 = ar.from === 'top' ? 0 : ys.getPixelForValue(ar.from);
        const y1 = ar.to === 'bottom' ? chart.height : ys.getPixelForValue(ar.to);
        ctx.beginPath();
        ctx.moveTo(x, y0);
        ctx.lineTo(x, y1);
        ctx.stroke();
        if (ar.head) {
          ctx.beginPath();
          ctx.moveTo(x - 10, y1 - 20);
          ctx.lineTo(x, y1);
          ctx.lineTo(x + 10, y1 - 20);
          ctx.stroke();
        }
      });
      ctx.restore();
    }
  };
}

panels.forEach(p => {
  const scatterSet = (data, color) => ({
    data: toPts(data),
    showLine: false,
    pointStyle: 'rectRot',
    pointRadius: 4.3,
    pointBorderWidth: 1.4,
    borderColor: color,
    backgroundColor: 'rgba(0,0,0,0)',
    clip: 0
  });

  new Chart(document.getElementById(p.el), {
    type: 'scatter',
    data: {
      datasets: [scatterSet(p.blue, BLUE), scatterSet(p.red, RED)]
    },
    options: {
      responsive: false,
      animation: false,
      devicePixelRatio: 1,
      events: [],
      layout: { padding: { left: 0, right: 34, top: p.pad.top, bottom: p.pad.bottom } },
      plugins: { legend: { display: false }, tooltip: { enabled: false } },
      scales: {
        x: {
          type: 'linear',
          min: 0, max: 360,
          display: !!p.xAxis,
          afterBuildTicks: s => { s.ticks = xTicks.map(v => ({ value: v })); },
          afterFit: s => {
            s.height = p.xAxis ? 67 : 0;
            s.paddingLeft = 0; s.paddingRight = 0;
          },
          grid: { display: false, drawTicks: false },
          border: { display: false },
          ticks: { padding: 13, color: INK, font: { family: FONT, size: 20, weight: LIGHT }, maxRotation: 0 },
          title: {
            display: true, text: 'Mode phase (\u00b0)', color: '#2a2a2a',
            font: { family: FONT, size: 20, weight: LIGHT }, padding: { top: 0, bottom: 4 }
          }
        },
        y: {
          min: p.yMin, max: p.yMax,
          afterFit: s => {
            s.width = 115;
            s.paddingTop = 0; s.paddingBottom = 0;
          },
          grid: { display: false, drawTicks: false },
          border: { display: false },
          ticks: {
            stepSize: 2, includeBounds: false, padding: 9, color: INK,
            font: { family: FONT, size: 20, weight: LIGHT }, callback: v => fmt(v)
          }
        }
      }
    },
    plugins: [panelPlugin(p)]
  });
});
</script>
</body>
</html>
